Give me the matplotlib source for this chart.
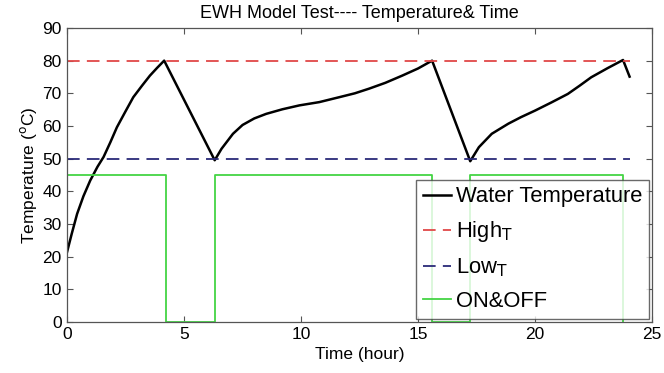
import numpy as np
import matplotlib.pyplot as plt

plt.rcParams['font.family'] = ['Liberation Sans', 'DejaVu Sans']

# water temperature samples (hour, deg C)
time_h = [0.0, 0.2, 0.43, 0.7, 0.99, 1.3, 1.56, 1.85, 2.13, 2.5, 2.83,
          3.2, 3.54, 3.85, 4.15,
          6.31, 6.6, 7.09, 7.5, 8.0, 8.51, 9.2, 9.93, 10.78, 11.63, 12.3,
          12.9, 13.6, 14.32, 15.0, 15.6,
          17.23, 17.6, 18.15, 18.86, 19.4, 20.0, 20.7, 21.4, 21.9, 22.4,
          23.1, 23.76, 24.04]
water_temp = [21.4, 27.0, 33.1, 38.5, 43.3, 47.5, 50.5, 55.0, 59.6, 64.5, 68.8,
              72.3, 75.4, 77.8, 80.0,
              49.5, 53.0, 57.6, 60.3, 62.3, 63.7, 65.1, 66.3, 67.3, 68.8, 70.0,
              71.4, 73.2, 75.4, 77.6, 80.0,
              49.2, 53.5, 57.6, 60.7, 62.7, 64.7, 67.2, 69.8, 72.3, 74.9,
              77.7, 80.2, 75.1]

# heater on/off switching (hour, level)
switch_t = [0.0, 4.23, 4.23, 6.31, 6.31, 15.6, 15.6, 17.23, 17.23, 23.76, 23.76]
switch_v = [45, 45, 0, 0, 45, 45, 0, 0, 45, 45, 0]

high_t = 80
low_t = 50
t_end = 24.04

fig = plt.figure(figsize=(6.64, 3.73), dpi=100)
ax = fig.add_axes([0.101, 0.137, 0.881, 0.788])

ax.plot(time_h, water_temp, color='black', lw=1.8, label='Water Temperature')
ax.plot([0, t_end], [high_t, high_t], color='#e04848', lw=1.3,
        dashes=(7, 4), label='High$_\\mathrm{T}$')
ax.plot([0, t_end], [low_t, low_t], color='#2a2a78', lw=1.3,
        dashes=(7, 4), label='Low$_\\mathrm{T}$')
ax.plot(switch_t, switch_v, color='#44d444', lw=1.3, label='ON&OFF')

ax.set_xlim(0, 25)
ax.set_ylim(0, 90)
ax.set_xticks(np.arange(0, 26, 5))
ax.set_yticks(np.arange(0, 91, 10))
ax.tick_params(direction='in', top=True, right=True, labelsize=12.5,
               length=4, color='#555555', pad=4)
for s in ax.spines.values():
    s.set_color('#555555')
    s.set_linewidth(0.9)

ax.set_title('EWH Model Test---- Temperature& Time', fontsize=13, pad=7)
ax.set_xlabel('Time (hour)', fontsize=12.5, labelpad=3)
ax.set_ylabel('Temperature ($^{\\mathrm{o}}$C)', fontsize=12.5, labelpad=2)

leg = ax.legend(loc='lower right', fontsize=15.8, frameon=True, fancybox=False,
                handlelength=1.3, handletextpad=0.2, borderpad=0.3,
                labelspacing=0.55, borderaxespad=0.15, edgecolor='#444444')
leg.get_frame().set_linewidth(1.0)

fig.savefig('out.png', dpi=100)
